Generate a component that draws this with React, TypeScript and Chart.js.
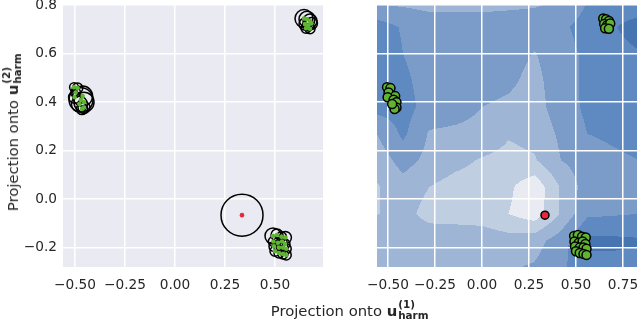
import React, { useEffect, useRef } from 'react';
import { Chart, registerables } from 'chart.js';
Chart.register(...registerables);

const FONT = "'DejaVu Sans', sans-serif";
const TEXT = '#262626';
const GREEN = '#5fb532';
const RED = '#e8283c';

// ---- data ----
const greenX = [
  -0.505, -0.487, -0.497, -0.462, -0.502, -0.47, -0.455, -0.455, -0.465, -0.478,
  0.645, 0.66, 0.675, 0.65, 0.666, 0.682, 0.655, 0.675,
  0.49, 0.51, 0.532, 0.552, 0.492, 0.515, 0.535, 0.55, 0.495, 0.52, 0.54, 0.556, 0.5, 0.52, 0.54, 0.556,
];
const greenY = [
  0.462, 0.458, 0.44, 0.425, 0.42, 0.41, 0.4, 0.378, 0.372, 0.392,
  0.745, 0.742, 0.735, 0.722, 0.717, 0.725, 0.705, 0.703,
  -0.152, -0.148, -0.155, -0.158, -0.175, -0.18, -0.175, -0.185, -0.195, -0.2, -0.2, -0.205, -0.215, -0.222, -0.226, -0.23,
];
const greenSpread = [
  0.022, 0.026, 0.024, 0.05, 0.03, 0.06, 0.05, 0.03, 0.028, 0.04,
  0.045, 0.04, 0.035, 0.03, 0.028, 0.03, 0.025, 0.025,
  0.04, 0.03, 0.025, 0.03, 0.025, 0.025, 0.025, 0.025, 0.025, 0.025, 0.025, 0.025, 0.025, 0.025, 0.025, 0.025,
];
const redX = [0.335];
const redY = [-0.066];
const redSpread = [0.105];

const xTicksLeft = [-0.5, -0.25, 0, 0.25, 0.5];
const xTicksRight = [-0.5, -0.25, 0, 0.25, 0.5, 0.75];
const yTicks = [-0.2, 0, 0.2, 0.4, 0.6, 0.8];

// background field (right panel), rows listed from top (y = 0.82) to bottom
const fieldX = [-0.56, -0.42, -0.28, -0.14, 0, 0.14, 0.28, 0.42, 0.56, 0.7, 0.84];
const fieldY = [0.82, 0.71, 0.6, 0.49, 0.38, 0.27, 0.16, 0.05, -0.06, -0.17, -0.28];
const fieldZ = [
  [3.3, 3.3, 3.4, 3.4, 3.4, 3.3, 3.2, 3.0, 2.0, 2.0, 2.1],
  [1.5, 2.1, 2.5, 2.5, 2.5, 2.5, 2.5, 2.2, 1.6, 1.1, 0.3],
  [1.3, 2.0, 2.5, 2.5, 2.5, 2.6, 3.05, 2.4, 1.8, 1.5, 1.1],
  [1.3, 1.8, 2.4, 2.5, 2.6, 2.8, 3.3, 2.4, 1.8, 1.5, 1.3],
  [1.6, 1.6, 2.4, 2.6, 3.0, 3.2, 3.4, 2.5, 1.8, 1.6, 1.5],
  [3.0, 1.8, 3.1, 3.2, 3.3, 3.9, 3.7, 2.8, 2.0, 1.8, 1.6],
  [3.6, 2.6, 3.3, 3.7, 4.1, 4.3, 4.1, 3.0, 2.5, 2.2, 2.0],
  [4.1, 3.4, 4.0, 4.4, 4.5, 4.8, 5.7, 3.9, 2.5, 2.3, 2.1],
  [4.05, 3.6, 4.4, 4.4, 4.5, 5.0, 5.6, 3.9, 2.2, 2.1, 2.0],
  [3.3, 3.3, 3.3, 3.4, 3.4, 3.6, 3.4, 2.5, 0.8, 0.8, 0.9],
  [3.3, 3.3, 3.3, 3.3, 3.2, 3.1, 2.9, 2.2, 1.3, 1.3, 1.4],
];
const bandColors = ['#4675b2', '#5f89c1', '#7b9cc9', '#9eb5d6', '#c0cee2', '#e8ebf2'];

// ---- helpers ----
const fmt = (v: number, d: number) => {
  const s = Math.abs(v).toFixed(d);
  return (v < -1e-9 ? '\u2212' : '') + s;
};

const hexToRgb = (h: string) => [
  parseInt(h.slice(1, 3), 16),
  parseInt(h.slice(3, 5), 16),
  parseInt(h.slice(5, 7), 16),
];

function fieldValue(x: number, y: number) {
  const nx = fieldX.length, ny = fieldY.length;
  let i = 0;
  while (i < nx - 2 && x > fieldX[i + 1]) i++;
  let j = 0;
  while (j < ny - 2 && y < fieldY[j + 1]) j++;
  let tx = (x - fieldX[i]) / (fieldX[i + 1] - fieldX[i]);
  let ty = (y - fieldY[j]) / (fieldY[j + 1] - fieldY[j]);
  tx = Math.max(0, Math.min(1, tx));
  ty = Math.max(0, Math.min(1, ty));
  const a = fieldZ[j][i], b = fieldZ[j][i + 1], c = fieldZ[j + 1][i], d = fieldZ[j + 1][i + 1];
  return a * (1 - tx) * (1 - ty) + b * tx * (1 - ty) + c * (1 - tx) * ty + d * tx * ty;
}

const bgPlugin = {
  id: 'bgfill',
  beforeDraw(chart: any) {
    const { ctx, chartArea: a } = chart;
    ctx.save();
    ctx.fillStyle = '#eaeaf2';
    ctx.fillRect(a.left, a.top, a.right - a.left, a.bottom - a.top);
    ctx.restore();
  },
};

const contourPlugin = {
  id: 'contourfill',
  beforeDraw(chart: any) {
    const { ctx, chartArea: a, scales } = chart;
    const x0 = Math.round(a.left), y0 = Math.round(a.top);
    const w = Math.round(a.right) - x0, h = Math.round(a.bottom) - y0;
    const img = ctx.createImageData(w, h);
    const rgb = bandColors.map(hexToRgb);
    for (let j = 0; j < h; j++) {
      const yv = scales.y.getValueForPixel(y0 + j + 0.5);
      for (let i = 0; i < w; i++) {
        const xv = scales.x.getValueForPixel(x0 + i + 0.5);
        const v = fieldValue(xv, yv);
        const band = Math.max(0, Math.min(bandColors.length - 1, Math.floor(v)));
        const c = rgb[band];
        const k = (j * w + i) * 4;
        img.data[k] = c[0];
        img.data[k + 1] = c[1];
        img.data[k + 2] = c[2];
        img.data[k + 3] = 255;
      }
    }
    ctx.putImageData(img, x0, y0);
  },
};

const toPts = (xs: number[], ys: number[]) => xs.map((x, i) => ({ x, y: ys[i] }));

const spreadRadius = (spread: number[]) => (c: any) => {
  const sx = c.chart.scales.x;
  return Math.abs(sx.getPixelForValue(spread[c.dataIndex]) - sx.getPixelForValue(0));
};

function baseScales(xMin: number, xMax: number, xTicks: number[], yAxisWidth: number, showY: boolean) {
  const grid = { color: '#ffffff', lineWidth: 1.5, drawTicks: false };
  return {
    x: {
      type: 'linear' as const,
      min: xMin,
      max: xMax,
      afterBuildTicks: (ax: any) => { ax.ticks = xTicks.map((v) => ({ value: v })); },
      afterFit: (ax: any) => {
        ax.height = 55;
        ax.paddingLeft = 0; ax.paddingRight = 0; ax.paddingTop = 0; ax.paddingBottom = 0;
      },
      grid,
      border: { display: false },
      ticks: {
        autoSkip: false,
        maxRotation: 0,
        padding: 10,
        color: TEXT,
        font: { family: FONT, size: 13.7 },
        callback: (v: any) => fmt(Number(v), 2),
      },
    },
    y: {
      type: 'linear' as const,
      min: -0.28,
      max: 0.805,
      afterBuildTicks: (ax: any) => { ax.ticks = yTicks.map((v) => ({ value: v })); },
      afterFit: (ax: any) => {
        ax.width = yAxisWidth;
        ax.paddingLeft = 0; ax.paddingRight = 0; ax.paddingTop = 0; ax.paddingBottom = 0;
      },
      grid,
      border: { display: false },
      ticks: {
        display: showY,
        autoSkip: false,
        padding: 6,
        color: TEXT,
        font: { family: FONT, size: 13.7 },
        callback: (v: any) => fmt(Number(v), 1),
      },
    },
  };
}

function LeftChart() {
  const ref = useRef<HTMLCanvasElement>(null);
  useEffect(() => {
    const chart = new Chart(ref.current!, {
      type: 'scatter',
      data: {
        datasets: [
          {
            data: toPts(greenX, greenY),
            pointRadius: 2.3,
            pointBackgroundColor: GREEN,
            pointBorderWidth: 0,
            order: 0,
          },
          {
            data: toPts(redX, redY),
            pointRadius: 2.3,
            pointBackgroundColor: RED,
            pointBorderWidth: 0,
            order: 0,
          },
          {
            data: toPts(greenX, greenY),
            pointRadius: spreadRadius(greenSpread),
            pointBackgroundColor: 'rgba(0,0,0,0)',
            pointBorderColor: '#000000',
            pointBorderWidth: 1.5,
            order: 1,
          },
          {
            data: toPts(redX, redY),
            pointRadius: spreadRadius(redSpread),
            pointBackgroundColor: 'rgba(0,0,0,0)',
            pointBorderColor: '#000000',
            pointBorderWidth: 1.5,
            order: 1,
          },
        ],
      },
      options: {
        responsive: false,
        animation: false,
        events: [],
        layout: { padding: { top: 4, right: 7, left: 0, bottom: 0 }, autoPadding: false } as any,
        plugins: { legend: { display: false }, tooltip: { enabled: false } },
        scales: baseScales(-0.56, 0.74, xTicksLeft, 63, true) as any,
      },
      plugins: [bgPlugin],
    });
    return () => chart.destroy();
  }, []);
  return <canvas ref={ref} width={330} height={322} style={{ position: 'absolute', left: 0, top: 0, width: 330, height: 322 }} />;
}

function RightChart() {
  const ref = useRef<HTMLCanvasElement>(null);
  useEffect(() => {
    const chart = new Chart(ref.current!, {
      type: 'scatter',
      data: {
        datasets: [
          {
            data: toPts(redX, redY),
            pointRadius: 4,
            pointBackgroundColor: RED,
            pointBorderColor: '#000000',
            pointBorderWidth: 1.5,
            order: 0,
          },
          {
            data: toPts(greenX, greenY),
            pointRadius: 4.5,
            pointBackgroundColor: GREEN,
            pointBorderColor: '#000000',
            pointBorderWidth: 1.5,
            order: 1,
          },
        ],
      },
      options: {
        responsive: false,
        animation: false,
        events: [],
        layout: { padding: { top: 4, right: 3, left: 0, bottom: 0 }, autoPadding: false } as any,
        plugins: { legend: { display: false }, tooltip: { enabled: false } },
        scales: baseScales(-0.5585, 0.8245, xTicksRight, 47, false) as any,
      },
      plugins: [contourPlugin],
    });
    return () => chart.destroy();
  }, []);
  return <canvas ref={ref} width={310} height={322} style={{ position: 'absolute', left: 330, top: 0, width: 310, height: 322 }} />;
}

function AxisLabel({ sup }: { sup: string }) {
  return (
    <span style={{ fontFamily: FONT, fontSize: 14.8, lineHeight: 1, color: TEXT, whiteSpace: 'nowrap' }}>
      Projection onto <b style={{ fontWeight: 'bold' }}>u</b>
      <span style={{ position: 'relative', display: 'inline-block', width: 32, height: 11.8, verticalAlign: 'baseline' }}>
        <span style={{ position: 'absolute', left: 1, top: -5, fontSize: 10.4, lineHeight: 1, fontWeight: 'bold' }}>({sup})</span>
        <span style={{ position: 'absolute', left: 1, top: 6, fontSize: 10.4, lineHeight: 1, fontWeight: 'bold' }}>harm</span>
      </span>
    </span>
  );
}

export default function App() {
  return (
    <div style={{ position: 'fixed', left: 0, top: 0, width: 640, height: 322, background: '#ffffff', overflow: 'hidden' }}>
      <LeftChart />
      <RightChart />
      <div style={{ position: 'absolute', left: 350, top: 311, transform: 'translate(-50%, -50%)', lineHeight: 1, whiteSpace: 'nowrap' }}>
        <AxisLabel sup="1" />
      </div>
      <div style={{ position: 'absolute', left: 13, top: 132, transform: 'translate(-50%, -50%) rotate(-90deg)', lineHeight: 1, whiteSpace: 'nowrap' }}>
        <AxisLabel sup="2" />
      </div>
    </div>
  );
}
